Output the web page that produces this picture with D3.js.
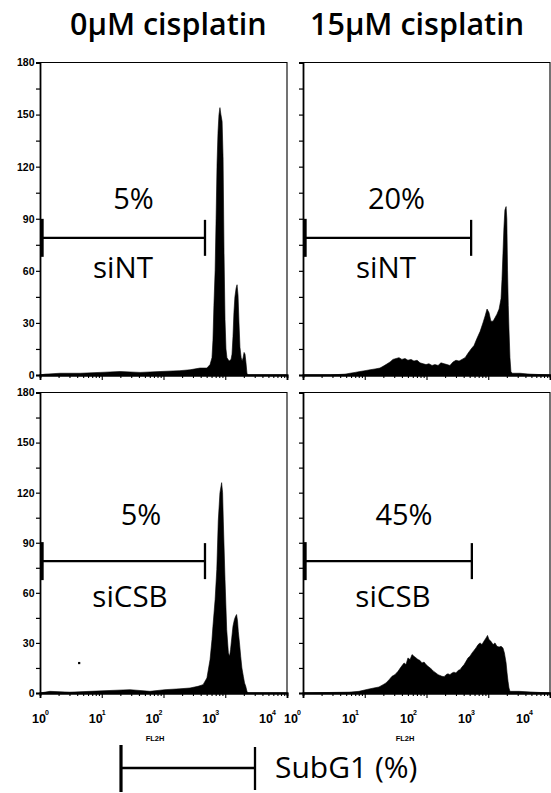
<!DOCTYPE html>
<html><head><meta charset="utf-8">
<script src="https://cdn.jsdelivr.net/npm/d3@7"></script>
<style>
html,body{margin:0;padding:0;background:#fff;}
svg{display:block;}
</style></head><body>
<svg id="chart" width="551" height="793"></svg>
<script>
// ---- data ----------------------------------------------------------
const conditions = ["0µM cisplatin", "15µM cisplatin"];
const samples = ["siNT", "siCSB"];
const subG1NT = [5, 20];     // % sub-G1, per condition
const subG1CSB = [5, 45];
const gateEndNT = [684, 697];   // FL2-H channel where the sub-G1 gate stops
const gateEndCSB = [684, 700];
const gateStart = 8;
const gateLevel = 79;           // counts
const yTickValues = [0, 30, 60, 90, 120, 150, 180];
const decadeExponents = [0, 1, 2, 3, 4];

// FL2-H histograms: channel (0-1023, 4 log decades) and event counts
const ntCtrlChannel = [0,21,83,166,249,332,415,498,580,622,663,692,705,713,717,721,726,730,734,738,742,746,750,755,759,763,767,771,775,784,792,796,800,804,808,813,817,821,825,829,834,838,842,846,850,854,858,862,1023];
const ntCtrlCount   = [0,0.5,1,1,1.5,2,1.5,2,2.5,3,4,4,6,10,20,40,60,90,122,140,150,154,150,146,125,70,32,15,10,8,9,12,22,36,45,50,52,46,30,16,10,8,10,13,12,7,1,0,0];

const ntCisChannel = [0,112,174,195,216,236,257,278,299,319,332,344,361,373,386,398,410,423,435,448,460,473,485,498,510,522,535,547,560,572,585,597,609,622,634,647,659,672,684,697,709,721,734,746,755,763,771,779,788,796,804,813,821,825,829,833,837,842,845,848,851,854,858,862,867,900,941,1023];
const ntCisCount   = [0,0,0.5,1,1.5,2,2.5,3,3.5,4,5,6,7.5,9,9.5,10,9,9.5,8.5,9,8,8.5,7,6.5,6,6.5,5.5,6,5.5,7,6.5,6,5.5,7.5,8.5,8,9,10,12.5,15,17,21,25,30,34,38,36,31,31,33,35,38,44,55,70,85,95,97,90,60,40,26,10,2,1,1,0.5,0];

const csbCtrlChannel = [0,41,124,207,290,373,456,518,580,622,655,676,692,705,713,717,726,733,739,746,753,757,760,767,774,781,786,790,795,800,806,811,815,819,822,827,832,837,843,848,853,858,862,1023];
const csbCtrlCount   = [0,1,0.5,1,1.5,2,1,2,2.5,3,4,5,9,20,32,40,56,74,103,120,126,120,103,68,38,24,22,26,33,40,44,46,47,43,37,30,22,15,10,6,4,1,0,0];

const csbCisChannel = [0,108,191,232,274,294,315,332,344,357,369,381,394,406,419,427,435,444,452,460,469,477,485,493,502,510,518,527,535,543,551,560,568,576,585,593,601,609,618,626,634,643,651,659,668,676,684,692,701,709,717,726,734,742,750,759,765,771,779,788,796,804,813,821,829,835,842,846,850,854,858,896,958,1023];
const csbCisCount   = [0,0.3,0.5,1,2.4,3,3.6,5,6,8,10,11,13,15.5,18,17,21,20,23,22,21,20,19.5,18,18.5,17,16,15,14,12.8,12,11,10.5,10,9.8,11,11.5,11,12,12.5,12,13.5,14,15.5,17,19,21,22,24,25.5,27,29,30,29,31,33,34.5,32,31,29,30,28,27.5,28,27,24,18,12,7,3,1,1,0.5,0];

// a single stray event in the siCSB control plot
const strayChannel = [162];
const strayCount = [18];

// ---- layout --------------------------------------------------------
const colX = [40, 303];
const plotW = 247;
const rowTop = [62.5, 392.5];
const rowBottom = [375, 693];
const labelRange = [[0, 227], [-11, 221]];   // decade label spread per column
const pctOffset = [[93.5, -166], [101, -168]];
const nameOffset = [[83, -97.5], [90, -86]];
const fl2Offset = [115, 102];

const titleFont = "'Open Sans', 'Noto Sans', sans-serif";
const tickFont = "'Liberation Sans Narrow', 'Liberation Sans', Arial, sans-serif";

const svg = d3.select("#chart");
svg.append("rect").attr("width", 551).attr("height", 793).attr("fill", "#fff");

const panels = [
  {row: 0, col: 0, ch: ntCtrlChannel,  ct: ntCtrlCount,  pct: subG1NT[0],  gate: gateEndNT[0],  name: samples[0]},
  {row: 0, col: 1, ch: ntCisChannel,   ct: ntCisCount,   pct: subG1NT[1],  gate: gateEndNT[1],  name: samples[0]},
  {row: 1, col: 0, ch: csbCtrlChannel, ct: csbCtrlCount, pct: subG1CSB[0], gate: gateEndCSB[0], name: samples[1], stray: true},
  {row: 1, col: 1, ch: csbCisChannel,  ct: csbCisCount,  pct: subG1CSB[1], gate: gateEndCSB[1], name: samples[1]}
];

panels.forEach((p, i) => {
  const x0 = colX[p.col], x1 = x0 + plotW;
  const yT = rowTop[p.row], yB = rowBottom[p.row];
  const xCh = d3.scaleLinear().domain([0, 1024]).range([x0, x1]);
  const xLog = d3.scaleLog().domain([1, 1e4]).range([x0, x1]);
  const y = d3.scaleLinear().domain([0, 180]).range([yB, yT]);
  const g = svg.append("g");

  g.append("clipPath").attr("id", "clip" + i)
    .append("rect").attr("x", x0).attr("y", yT).attr("width", plotW).attr("height", yB - yT);

  // histogram
  const pts = p.ch.map((c, k) => [c, p.ct[k]]);
  const area = d3.area().x(d => xCh(d[0])).y0(y(0)).y1(d => y(d[1])).curve(d3.curveLinear);
  g.append("path").attr("d", area(pts)).attr("fill", "#000")
    .attr("stroke", "#000").attr("stroke-width", 0.6).attr("clip-path", `url(#clip${i})`);

  if (p.stray) {
    g.selectAll("rect.stray").data(strayChannel).join("rect").attr("class", "stray")
      .attr("x", (d) => xCh(d) - 1).attr("y", (d, k) => y(strayCount[k]) - 1)
      .attr("width", 2.2).attr("height", 2.2).attr("fill", "#000");
  }

  // frame (top and right)
  g.append("path").attr("d", `M${x0},${yT}H${x1}V${yB}`).attr("fill", "none")
    .attr("stroke", "#000").attr("stroke-width", 1.1);

  // y axis
  const yAxis = d3.axisLeft(y).tickValues(d3.range(0, 181, 15)).tickSize(4)
    .tickFormat(d => (p.col === 0 && yTickValues.includes(d)) ? d : "");
  const ya = g.append("g").attr("transform", `translate(${x0},0)`).call(yAxis);
  ya.select(".domain").attr("stroke-width", 1.8);
  ya.selectAll(".tick line").attr("stroke-width", 1.2);
  ya.selectAll(".tick text").attr("font-family", tickFont).attr("font-size", 10.5)
    .attr("font-weight", "bold").attr("x", -5.5).attr("fill", "#000");

  // x axis with log minor ticks
  const minor = [];
  decadeExponents.slice(0, 4).forEach(e => { for (let m = 2; m <= 9; m++) minor.push(m * Math.pow(10, e)); });
  const majors = decadeExponents.map(e => Math.pow(10, e));
  const xa = g.append("g").attr("transform", `translate(0,${yB})`);
  xa.call(d3.axisBottom(xLog).tickValues(minor).tickSize(3).tickFormat(""));
  xa.append("g").call(d3.axisBottom(xLog).tickValues(majors).tickSize(5).tickFormat(""));
  xa.selectAll(".domain").attr("stroke-width", 1.8);
  xa.selectAll(".tick line").attr("stroke-width", 1.1);

  // decade labels on the lower row
  if (p.row === 1) {
    const lab = d3.scaleLog().domain([1, 1e4]).range([x0 + labelRange[p.col][0], x0 + labelRange[p.col][1]]);
    decadeExponents.forEach(e => {
      const lx = lab(Math.pow(10, e));
      g.append("text").attr("x", lx - 1).attr("y", 723).text("10")
        .attr("font-family", tickFont).attr("font-size", 12.5).attr("font-weight", "bold")
        .attr("text-anchor", "middle").attr("fill", "#000");
      g.append("text").attr("x", lx + 5).attr("y", 715).text(e)
        .attr("font-family", tickFont).attr("font-size", 7).attr("font-weight", "bold")
        .attr("text-anchor", "start").attr("fill", "#000");
    });
    g.append("text").attr("x", x0 + fl2Offset[p.col]).attr("y", 741).text("FL2H")
      .attr("font-family", tickFont).attr("font-size", 7.5).attr("font-weight", "bold")
      .attr("text-anchor", "middle").attr("fill", "#000");
  }

  // sub-G1 gate
  const gy = y(gateLevel);
  g.append("line").attr("x1", xCh(gateStart)).attr("x2", xCh(p.gate)).attr("y1", gy).attr("y2", gy)
    .attr("stroke", "#000").attr("stroke-width", 2.3);
  g.append("line").attr("x1", xCh(gateStart)).attr("x2", xCh(gateStart)).attr("y1", gy - 19).attr("y2", gy + 19)
    .attr("stroke", "#000").attr("stroke-width", 3.5);
  g.append("line").attr("x1", xCh(p.gate)).attr("x2", xCh(p.gate)).attr("y1", gy - 18).attr("y2", gy + 18)
    .attr("stroke", "#000").attr("stroke-width", 2.3);

  // labels
  g.append("text").attr("x", x0 + pctOffset[p.row][0]).attr("y", yB + pctOffset[p.row][1])
    .text(p.pct + "%").attr("font-family", titleFont).attr("font-size", 29)
    .attr("text-anchor", "middle").attr("fill", "#000");
  g.append("text").attr("x", x0 + nameOffset[p.row][0]).attr("y", yB + nameOffset[p.row][1])
    .text(p.name).attr("font-family", titleFont).attr("font-size", 29.5)
    .attr("text-anchor", "middle").attr("fill", "#000");
});

// column titles
const titleX = [70, 310];
conditions.forEach((c, i) => {
  svg.append("text").attr("x", titleX[i]).attr("y", 35).text(c)
    .attr("font-family", titleFont).attr("font-size", 30.5).attr("font-weight", 600).attr("fill", "#000");
});

// gate legend
const lg = svg.append("g");
lg.append("line").attr("x1", 121).attr("x2", 255).attr("y1", 768).attr("y2", 768)
  .attr("stroke", "#000").attr("stroke-width", 2.5);
lg.append("line").attr("x1", 121).attr("x2", 121).attr("y1", 745).attr("y2", 792)
  .attr("stroke", "#000").attr("stroke-width", 3.2);
lg.append("line").attr("x1", 255).attr("x2", 255).attr("y1", 747).attr("y2", 790)
  .attr("stroke", "#000").attr("stroke-width", 2.3);
lg.append("text").attr("x", 275).attr("y", 778).text("SubG1 (%)")
  .attr("font-family", titleFont).attr("font-size", 30).attr("fill", "#000");
</script>
</body></html>
